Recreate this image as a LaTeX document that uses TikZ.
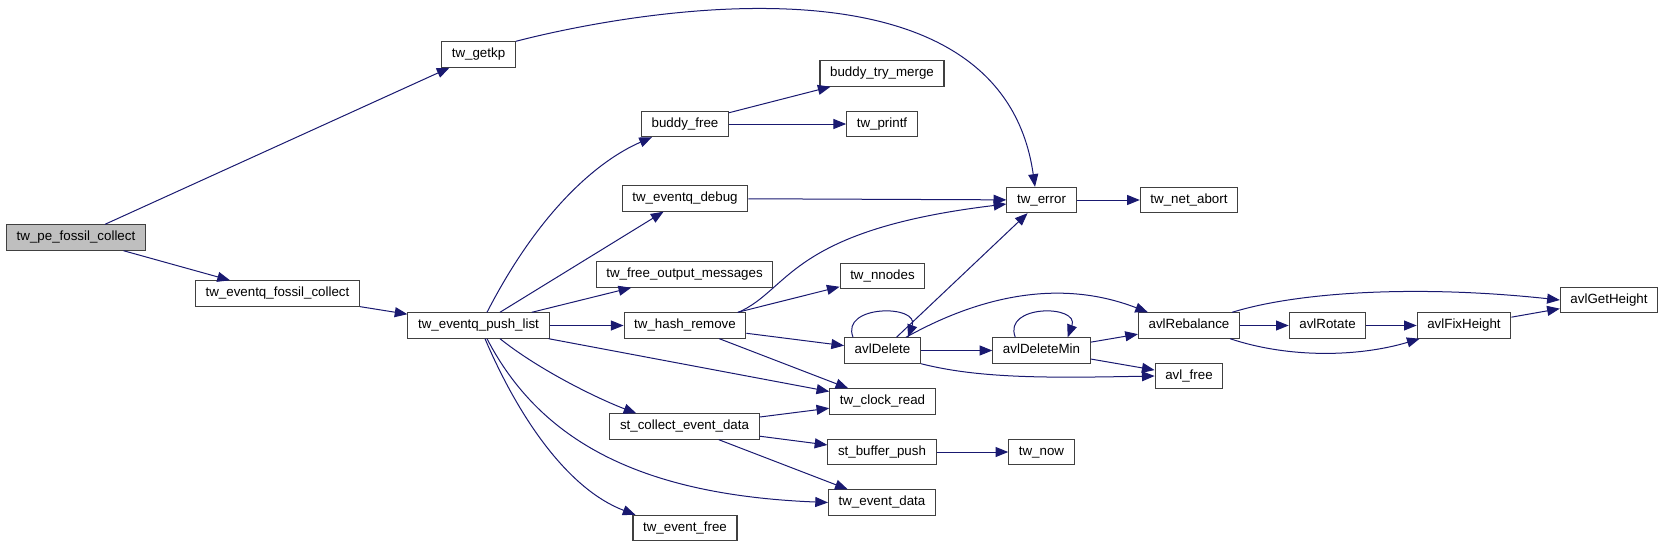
\documentclass[tikz,border=0pt]{standalone}
\usepackage{fontspec}
\setmainfont{Liberation Sans}
\usetikzlibrary{arrows.meta,calc}
\definecolor{callc}{HTML}{191970}
\definecolor{rootc}{HTML}{BFBFBF}
\definecolor{fnb}{HTML}{404040}

\begin{document}
\begin{tikzpicture}[
  x=0.75pt, y=-0.75pt, font=\fontsize{10}{12}\selectfont,
  fn/.style={draw=fnb, fill=white, line width=.8pt, minimum height=19pt, inner xsep=7.6pt, inner ysep=0pt, text height=7.2pt, text depth=2pt},
  root/.style={fn, fill=rootc},
  call/.style={-{Triangle[length=9.5pt,width=7.5pt]}, line width=.75pt, callc},
]
\useasboundingbox (0,0) rectangle (1664,547);

% ---------------- caller side
\node[root] (pefossil)   at (76,237.5)    {tw\_pe\_fossil\_collect};
\node[fn]   (getkp)      at (478.5,54.5)  {tw\_getkp};
\node[fn]   (fossilq)    at (277.5,293.5) {tw\_eventq\_fossil\_collect};
\node[fn]   (pushlist)   at (478.5,325.5) {tw\_eventq\_push\_list};

% ---------------- called from push list
\node[fn] (buddyfree)  at (685,124)    {buddy\_free};
\node[fn] (qdebug)     at (685,198.5)  {tw\_eventq\_debug};
\node[fn] (freeout)    at (684.5,274.5) {tw\_free\_output\_messages};
\node[fn] (hashremove) at (685,325.5)  {tw\_hash\_remove};
\node[fn] (stcollect)  at (684.5,426.5) {st\_collect\_event\_data};
\node[fn] (eventfree)  at (685,528)    {tw\_event\_free};

\node[fn] (trymerge)   at (882,73.5)   {buddy\_try\_merge};
\node[fn] (printf)     at (882,124)    {tw\_printf};
\node[fn] (nnodes)     at (882.5,276)  {tw\_nnodes};
\node[fn] (avldelete)  at (882.5,350.5) {avlDelete};
\node[fn] (clockread)  at (882.5,401.5) {tw\_clock\_read};
\node[fn] (bufferpush) at (882,452)    {st\_buffer\_push};
\node[fn] (eventdata)  at (882,502.5)  {tw\_event\_data};

% ---------------- avl tree and the rest
\node[fn] (twerror)      at (1041.5,200)   {tw\_error};
\node[fn] (avldeletemin) at (1041.5,350.5) {avlDeleteMin};
\node[fn] (twnow)        at (1041.5,452)   {tw\_now};
\node[fn] (netabort)     at (1189,200)     {tw\_net\_abort};
\node[fn] (avlrebalance) at (1189,325.5)   {avlRebalance};
\node[fn] (avlfree)      at (1189,376)     {avl\_free};
\node[fn] (avlrotate)    at (1327.5,325.5) {avlRotate};
\node[fn] (avlfixheight) at (1464,325.5)   {avlFixHeight};
\node[fn] (avlgetheight) at (1609,300)     {avlGetHeight};

% ---------------- calls
\draw[call] (pefossil) -- (getkp);
\draw[call] (pefossil) -- (fossilq);
\draw[call] (getkp.north east) .. controls +(104,-27) and +(-35,-247) .. ($(twerror.north)+(-6.5,0)$);
\draw[call] (fossilq) -- (pushlist);

\draw[call] ($(pushlist.north)+(8.5,0)$) .. controls +(53,-103) and +(-53,23) .. ($(buddyfree.south west)+(11,0)$);
\draw[call] (pushlist) -- (qdebug);
\draw[call] (pushlist) -- (freeout);
\draw[call] (pushlist) -- (hashremove);
\draw[call] (pushlist) -- (clockread);
\draw[call] ($(pushlist.south)+(21.5,0)$) .. controls +(40,32) and +(-37,-14) .. ($(stcollect.north west)+(27,0)$);
\draw[call] ($(pushlist.south)+(8.5,0)$) .. controls +(53,102) and +(-188,-7.5) .. (eventdata.west);
\draw[call] ($(pushlist.south)+(6.5,0)$) .. controls +(35,82) and +(-66,-25) .. ($(eventfree.north west)+(3,0)$);

\draw[call] (buddyfree) -- (trymerge);
\draw[call] (buddyfree) -- (printf);
\draw[call] (qdebug) -- (twerror);
\draw[call] ($(hashremove.north east)+(-8,0)$) .. controls +(52,-23) and +(-217,26) .. ($(twerror.west)+(0,4)$);
\draw[call] (hashremove) -- (nnodes);
\draw[call] (hashremove) -- (avldelete);
\draw[call] (hashremove) -- (clockread);
\draw[call] (twerror) -- (netabort);

\draw[call] ($(avldelete.north west)+(9,0)$) .. controls +(-13,-33) and +(12,-33) .. ($(avldelete.north east)+(-13,0)$);
\draw[call] (avldelete) -- (twerror);
\draw[call] ($(avldelete.north east)+(-15,0)$) .. controls +(59,-33) and +(-98,-38) .. ($(avlrebalance.north west)+(10,0)$);
\draw[call] (avldelete) -- (avldeletemin);
\draw[call] (avldelete.south east) .. controls +(59,15) and +(-105,2) .. (avlfree.west);
\draw[call] ($(avldeletemin.north west)+(23,0)$) .. controls +(-13,-33) and +(12,-33) .. ($(avldeletemin.north east)+(-23,0)$);
\draw[call] (avldeletemin) -- (avlrebalance);
\draw[call] (avldeletemin) -- (avlfree);

\draw[call] ($(avlrebalance.north east)+(-8,0)$) .. controls +(68,-21) and +(-139,-15) .. (avlgetheight.west);
\draw[call] (avlrebalance) -- (avlrotate);
\draw[call] ($(avlrebalance.south east)+(-10,0)$) .. controls +(60,20) and +(-60,18) .. ($(avlfixheight.south west)+(3,0)$);
\draw[call] (avlrotate) -- (avlfixheight);
\draw[call] (avlfixheight) -- (avlgetheight);

\draw[call] (stcollect) -- (clockread);
\draw[call] (stcollect) -- (bufferpush);
\draw[call] (stcollect) -- (eventdata);
\draw[call] (bufferpush) -- (twnow);

\end{tikzpicture}
\end{document}
